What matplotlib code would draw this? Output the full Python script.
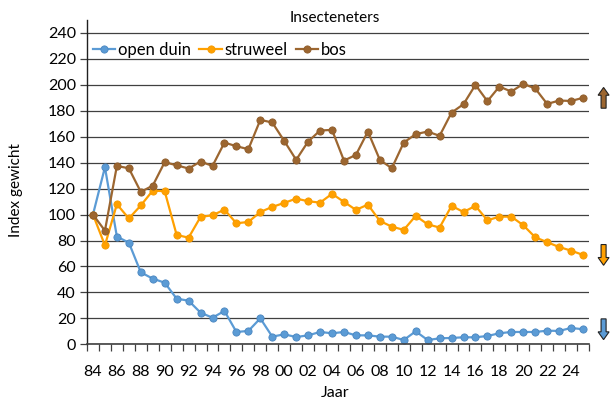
import matplotlib
matplotlib.use("Agg")
import matplotlib.pyplot as plt
from matplotlib.patches import FancyArrow
from matplotlib.ticker import FixedLocator

plt.rcParams['font.family'] = ['Lato', 'DejaVu Sans']

years = list(range(1984, 2026))
open_duin = [100, 136.5, 83, 78.4, 55.5, 50.6, 47.5, 35.2, 33.6, 24.4, 20.5, 25.7, 9.5, 10.3,
             20, 5.9, 7.7, 5.6, 6.9, 9.5, 8.5, 9.5, 6.9, 6.9, 5.9, 5.9, 3.3, 10, 3.3,
             4.6, 4.9, 5.4, 5.4, 6.4, 8.5, 9.5, 9.5, 9.5, 10.5, 10.3, 12.6, 11.6]
struweel = [100, 76.3, 108, 97, 107, 118.5, 118, 84.3, 82.2, 98.2, 99.5, 103.8, 93.3, 94.3,
            102, 105.9, 109, 112.3, 110.3, 109.2, 116, 109.8, 103.6, 107.7, 95.1, 90.7, 88.2,
            99, 92.5, 90, 106.7, 102, 106.7, 95.6, 98.4, 98.4, 91.8, 82.5, 78.7, 75, 72.2, 68.9]
bos = [100, 87.6, 137.5, 135.7, 117.5, 122.3, 140.4, 138, 135.5, 140.9, 137.5, 155.5, 152.7,
       150.4, 173, 171, 156.8, 142.2, 156.3, 164.8, 165.3, 141.6, 146, 164, 142.2, 135.7,
       155.5, 162, 164, 160.7, 178.6, 185.1, 200, 187.4, 198.7, 194.8, 200.8, 197.2, 185.3,
       187.9, 187.6, 190]
series_names = ['open duin', 'struweel', 'bos']
colors = ['#5B9BD5', '#FFA000', '#9C6630']
edge_colors = ['#4A86C0', '#F59A00', '#8E5C2A']
arrow_up = [False, False, True]
title = 'Insecteneters'
xlabel = 'Jaar'
ylabel = 'Index gewicht'

fig = plt.figure(figsize=(6.15, 4.03), dpi=100)
ax = fig.add_axes([87/615, 1-344.3/403, 502/615, (344.3-20)/403])

xs = list(range(len(years)))
for vals, name, c, ec in zip([open_duin, struweel, bos], series_names, colors, edge_colors):
    ax.plot(xs, vals, color=c, lw=1.6, marker='o', markersize=5.2,
            markerfacecolor=c, markeredgecolor=ec, markeredgewidth=0.6, label=name)

# trend arrows at right, centered on the last value of each series
for vals, c, up in zip([open_duin, struweel, bos], colors, arrow_up):
    last = vals[-1]
    L = 16
    x0 = len(years) - 1 + 1.72
    if up:
        y0, dy = last - L/2, L
    else:
        y0, dy = last + L/2, -L
    arr = FancyArrow(x0, y0, 0, dy, width=0.42, head_width=0.92, head_length=6,
                     length_includes_head=True, facecolor=c, edgecolor='#222222',
                     linewidth=0.8, clip_on=False, zorder=5)
    ax.add_patch(arr)

ax.set_xlim(-0.5, len(years) - 0.5)
ax.set_ylim(0, 250)
ax.set_yticks(range(0, 241, 20))
ax.yaxis.grid(True, color='#404040', lw=0.9)
ax.set_axisbelow(True)
ax.set_xticks([i for i, y in enumerate(years) if y % 2 == 0 and y <= 2024])
ax.set_xticklabels(['%02d' % (y % 100) for y in years if y % 2 == 0 and y <= 2024])
ax.xaxis.set_minor_locator(FixedLocator([i - 0.5 for i in range(len(years) + 1)]))
ax.tick_params(axis='x', which='major', length=0, labelsize=11.5, pad=15)
ax.tick_params(axis='x', which='minor', length=5, width=0.9, direction='out', color='#404040')
ax.tick_params(axis='y', length=5, width=0.9, direction='out', color='#404040', labelsize=11.5, pad=3)

for s in ['top', 'right']:
    ax.spines[s].set_visible(False)
ax.spines['left'].set_color('#202020')
ax.spines['bottom'].set_color('#404040')
ax.spines['left'].set_linewidth(1)
ax.spines['bottom'].set_linewidth(1.2)

fig.text(335/615, 1-18/403, title, ha='center', va='center', fontsize=11)
fig.text(335/615, 1-393/403, xlabel, ha='center', va='center', fontsize=11.5)
fig.text(16/615, 1-190/403, ylabel, ha='center', va='center', rotation=90, fontsize=11)

leg = ax.legend(loc='center left', bbox_to_anchor=(6 / 502, 1 - (50 - 20) / 324.3), ncol=3,
                frameon=False, fontsize=12, handlelength=1.35, handletextpad=0.15,
                columnspacing=0.5, borderaxespad=0.0, borderpad=0.0)

fig.savefig('out.png', dpi=100)
